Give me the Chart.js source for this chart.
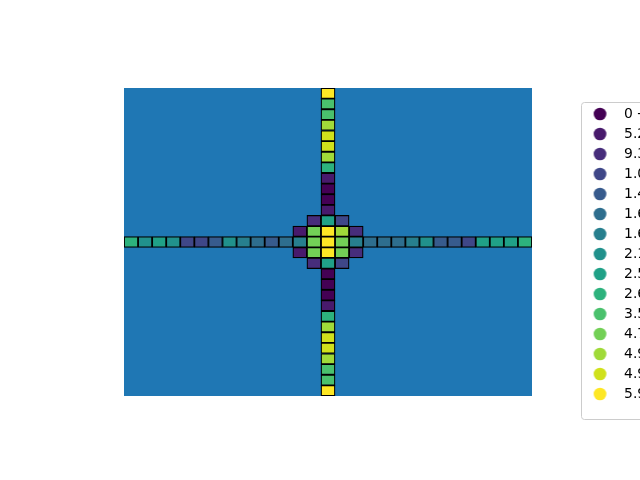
<!DOCTYPE html>
<html>
<head>
<meta charset="utf-8">
<script src="https://cdn.jsdelivr.net/npm/chart.js@4/dist/chart.umd.min.js"></script>
<style>
html, body { margin: 0; padding: 0; background: #fff; overflow: hidden; width: 640px; height: 480px; }
#wrap { position: absolute; left: 0; top: 0; width: 760px; height: 480px; }
canvas { display: block; }
</style>
</head>
<body>
<div id="wrap"><canvas id="c" width="760" height="480"></canvas></div>
<script>
// ---- data ----
const columns = ['0','1','2','3','4','5','6','7','8','9','10','11','12','13','14',
                 '15','16','17','18','19','20','21','22','23','24','25','26','27','28'];

const levelColors = ['#440154','#481a6c','#472d7b','#3f4788','#375b8d','#2e6e8e','#277f8e',
                     '#21918c','#20a187','#2db27d','#4ac16d','#73d056','#a0da39','#d0e11c','#fde725'];

const binEdges = ['0','5.2e-05','9.3e-05','1.0e-04','1.4e-04','1.6e-04','1.6e-04','2.1e-04',
                  '2.5e-04','2.6e-04','3.5e-04','4.7e-04','4.9e-04','4.9e-04','5.9e-04','6.4e-04'];

// colour level (0..14) of each cell of the centre row (columns 0..28)
const centerRowLevels = [9,7,8,7,3,3,4,7,6,5,4,5,6,11,14,11,6,5,5,5,6,7,4,4,3,8,8,8,9];
// colour level of each cell of the centre column (rows 0..28, top to bottom)
const centerColLevels = [14,10,10,12,13,13,12,9,1,0,0,1,8,14,14,14,8,0,0,0,1,9,12,13,13,12,10,10,14];
// extra cells of the central cluster
const clusterRows   = [12,12,13,13,13,13,15,15,15,15,16,16];
const clusterCols   = [13,15,12,13,15,16,12,13,15,16,13,15];
const clusterLevels = [ 2, 3, 1,11,12, 2, 1,11,11, 2, 2, 3];

const CENTER = 14;

// ---- build cells ----
const cells = [];
centerRowLevels.forEach((lv, c) => cells.push({ row: CENTER, col: c, level: lv }));
centerColLevels.forEach((lv, r) => { if (r !== CENTER) cells.push({ row: r, col: CENTER, level: lv }); });
clusterLevels.forEach((lv, i) => cells.push({ row: clusterRows[i], col: clusterCols[i], level: lv }));

function binLabel(i) { return binEdges[i] + ' - ' + binEdges[i + 1]; }

function circleMarker(color) {
  const cv = document.createElement('canvas');
  cv.width = 80; cv.height = 14;
  const g = cv.getContext('2d');
  g.fillStyle = color;
  g.beginPath();
  g.arc(62.4, 7, 6.35, 0, Math.PI * 2);
  g.fill();
  return cv;
}
const markers = levelColors.map(circleMarker);

const datasets = levelColors.map((color, lv) => ({
  label: binLabel(lv),
  data: cells.filter(c => c.level === lv).map(c => ({ x: columns[c.col], y: [c.row, c.row + 1] })),
  backgroundColor: color,
  borderColor: '#000000',
  borderWidth: 1.25,
  borderSkipped: false,
  grouped: false,
  barPercentage: 1,
  categoryPercentage: 1
}));

const framePlugin = {
  id: 'frame',
  beforeDraw(chart) {
    const { ctx, chartArea: a, legend } = chart;
    ctx.save();
    ctx.fillStyle = '#1f77b4';
    ctx.fillRect(a.left, a.top, a.right - a.left, a.bottom - a.top);
    if (legend) {
      const x = legend.left + 49.5, y = legend.top + 14.5, w = 300, h = legend.bottom - legend.top - 15, r = 3;
      ctx.beginPath();
      ctx.moveTo(x + r, y);
      ctx.lineTo(x + w - r, y);
      ctx.arcTo(x + w, y, x + w, y + r, r);
      ctx.lineTo(x + w, y + h - r);
      ctx.arcTo(x + w, y + h, x + w - r, y + h, r);
      ctx.lineTo(x + r, y + h);
      ctx.arcTo(x, y + h, x, y + h - r, r);
      ctx.lineTo(x, y + r);
      ctx.arcTo(x, y, x + r, y, r);
      ctx.closePath();
      ctx.fillStyle = 'rgba(255,255,255,0.8)';
      ctx.fill();
      ctx.strokeStyle = '#cccccc';
      ctx.lineWidth = 1;
      ctx.stroke();
    }
    ctx.restore();
  }
};

new Chart(document.getElementById('c'), {
  type: 'bar',
  data: { labels: columns, datasets: datasets },
  plugins: [framePlugin],
  options: {
    responsive: false,
    animation: false,
    events: [],
    layout: { padding: { left: 124, top: 88, right: 78, bottom: 60 } },
    scales: {
      x: {
        type: 'category',
        offset: true,
        display: true,
        grid: { display: false },
        ticks: { display: false },
        border: { display: false },
        afterFit(s) { s.height = 24; }
      },
      y: { type: 'linear', min: 0, max: 29, reverse: true, display: false }
    },
    plugins: {
      tooltip: { enabled: false },
      legend: {
        position: 'right',
        align: 'center',
        maxWidth: 150,
        labels: {
          usePointStyle: true,
          pointStyleWidth: 79,
          padding: 6.1,
          color: '#000000',
          font: { family: 'DejaVu Sans', size: 13.9 },
          generateLabels(chart) {
            return chart.data.datasets.map((ds, i) => ({
              text: ds.label,
              fillStyle: levelColors[i],
              strokeStyle: levelColors[i],
              fontColor: '#000000',
              lineWidth: 0,
              pointStyle: markers[i],
              hidden: false,
              datasetIndex: i
            }));
          }
        }
      }
    }
  }
});
</script>
</body>
</html>
